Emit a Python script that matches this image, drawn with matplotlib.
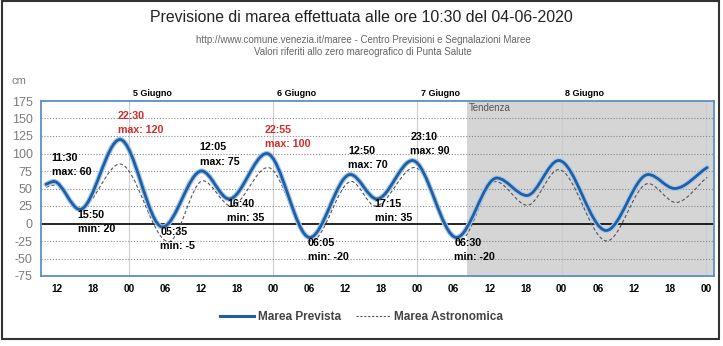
import matplotlib
matplotlib.use('Agg')
import matplotlib.pyplot as plt
from matplotlib.path import Path
from matplotlib.patches import PathPatch, Rectangle
from matplotlib.lines import Line2D

plt.rcParams['font.family'] = ['Liberation Sans', 'DejaVu Sans']
plt.rcParams['axes.unicode_minus'] = False

# hours counted from 04-06-2020 00:00, levels in cm
prev_hours = [10.2, 11.5, 15.83, 22.5, 29.58, 36.08, 40.67, 46.92, 54.08, 60.83,
              65.25, 71.17, 78.5, 85.2, 90.2, 95.5, 103.4, 110.4, 114.8, 120.2]
prev_cm = [56, 60, 20, 120, -5, 75, 35, 100, -20, 70,
           35, 90, -20, 65, 40, 90, -10, 70, 50, 80]

astro_hours = [10.2, 11.8, 16.0, 22.5, 30.6, 36.3, 41.0, 47.1, 54.4, 61.0,
               65.0, 71.5, 79.0, 85.0, 90.3, 95.5, 103.5, 110.4, 115.0, 120.2]
astro_cm = [52, 55, 22, 85, -26, 61, 25, 80, -25, 60,
            25, 80, -25, 60, 26, 77, -25, 57, 30, 66]

# labelled extremes of the forecast
ext_day = [0, 0, 0, 1, 1, 1, 1, 2, 2, 2, 2, 3]
ext_time = ['11:30', '15:50', '22:30', '05:35', '12:05', '16:40',
            '22:55', '06:05', '12:50', '17:15', '23:10', '06:30']
ext_kind = ['max', 'min', 'max', 'min', 'max', 'min',
            'max', 'min', 'max', 'min', 'max', 'min']
ext_cm = [60, 20, 120, -5, 75, 35, 100, -20, 70, 35, 90, -20]

day_names = ['5 Giugno', '6 Giugno', '7 Giugno', '8 Giugno']
day_hours = [24, 48, 72, 96, 120]
tendenza_start = 80.3
xtick_hours = list(range(12, 121, 6))
ytick_cm = list(range(-75, 176, 25))


def spline(t, v):
    # smooth curve through the extremes (horizontal tangent at each inner extreme)
    verts = [(t[0], v[0])]
    codes = [Path.MOVETO]
    n = len(t)
    for i in range(n - 1):
        dt = t[i + 1] - t[i]
        if i == 0:
            c1 = (t[i] + dt / 3, v[i] + (v[i + 1] - v[i]) / 3)
        else:
            c1 = (t[i] + dt / 3, v[i])
        if i + 1 == n - 1:
            c2 = (t[i + 1] - dt / 3, v[i + 1] - (v[i + 1] - v[i]) / 3)
        else:
            c2 = (t[i + 1] - dt / 3, v[i + 1])
        verts += [c1, c2, (t[i + 1], v[i + 1])]
        codes += [Path.CURVE4] * 3
    return Path(verts, codes)


blue = '#215fa3'
fig = plt.figure(figsize=(7.23, 3.46), dpi=100)
ax = fig.add_axes([41 / 723, 1 - 276 / 346, 673 / 723, 175 / 346])
ax.set_xlim(9.36, 121.34)
ax.set_ylim(-75, 175)

ax.axvspan(tendenza_start, 121.34, color='#d5d5d5', zorder=0, lw=0)
for h in day_hours:
    ax.axvline(h, color='#cdcdcd', lw=0.8, zorder=1)
for c in ytick_cm[1:-1]:
    if c != 0:
        ax.axhline(c, color='#8a8a8a', lw=0.8, ls=(0, (1, 1.6)), zorder=1)
ax.axhline(0, color='black', lw=1.2, zorder=2)

ax.add_patch(PathPatch(spline(astro_hours, astro_cm), fill=False, ec='#555555',
                       lw=0.8, ls=(0, (3, 2)), zorder=3))
ax.add_patch(PathPatch(spline(prev_hours, prev_cm), fill=False, ec='#a4c8ea',
                       lw=3.7, zorder=4, capstyle='round'))
ax.add_patch(PathPatch(spline(prev_hours, prev_cm), fill=False, ec=blue,
                       lw=2.0, zorder=5, capstyle='round'))

for d, t, k, v in zip(ext_day, ext_time, ext_kind, ext_cm):
    h = 24 * d + int(t[:2]) + int(t[3:]) / 60
    col = '#d42a2a' if v >= 100 else 'black'
    if k == 'max':
        offs = [17, 6.5]
    else:
        offs = [-3.6, -14]
    for txt, dy in zip([t, '%s: %d' % (k, v)], offs):
        ax.annotate(txt, xy=(h, v), xytext=(-1.5, dy), textcoords='offset points',
                    ha='left', va='center', fontsize=7.7, fontweight='bold',
                    color=col, zorder=6)

for name, h in zip(day_names, day_hours):
    ax.text(h + 0.6, 185, name, ha='left', va='center', fontsize=6.5,
            fontweight='bold', clip_on=False)
ax.text(tendenza_start + 0.2, 164.6, 'Tendenza', ha='left', va='center',
        fontsize=7, color='#555555')

ax.set_xticks(xtick_hours)
ax.set_xticklabels(['%02d' % (h % 24) for h in xtick_hours], fontsize=7.2,
                   fontweight='bold')
ax.set_yticks(ytick_cm)
ax.set_yticklabels([str(c) for c in ytick_cm], fontsize=9, color='#7c7c7c')
ax.tick_params(axis='x', length=0, pad=6)
ax.tick_params(axis='y', length=0, pad=6)
for s in ax.spines.values():
    s.set_color('#5a8fc8')
    s.set_linewidth(1.3)

fig.text(19 / 723, 1 - 80.5 / 346, 'cm', ha='center', va='center',
         color='#808080', fontsize=8)
fig.text(0.5, 1 - 17 / 346, 'Previsione di marea effettuata alle ore 10:30 del 04-06-2020',
         ha='center', va='center', fontsize=11.4, color='#222222')
fig.text(0.502, 1 - 40 / 346,
         'http://www.comune.venezia.it/maree - Centro Previsioni e Segnalazioni Maree',
         ha='center', va='center', fontsize=7, color='#666666')
fig.text(0.502, 1 - 52 / 346, 'Valori riferiti allo zero mareografico di Punta Salute',
         ha='center', va='center', fontsize=7, color='#666666')

handles = [Line2D([], [], color=blue, lw=2.2),
           Line2D([], [], color='#555555', lw=0.8, ls=(0, (2, 1.5)))]
leg = fig.legend(handles, ['Marea Prevista', 'Marea Astronomica'], loc='center',
                 bbox_to_anchor=(0.5, 1 - 317 / 346), ncol=2, frameon=False,
                 prop={'weight': 'bold', 'size': 8.5}, handlelength=2.9,
                 handletextpad=0.35, columnspacing=1.2)
for t in leg.get_texts():
    t.set_color('#444444')

fig.patches.append(Rectangle((2 / 723, 1 - 339 / 346), 717 / 723, 338 / 346,
                             transform=fig.transFigure, fill=False,
                             ec='#333333', lw=1.5))

fig.savefig('out.png', dpi=100)
